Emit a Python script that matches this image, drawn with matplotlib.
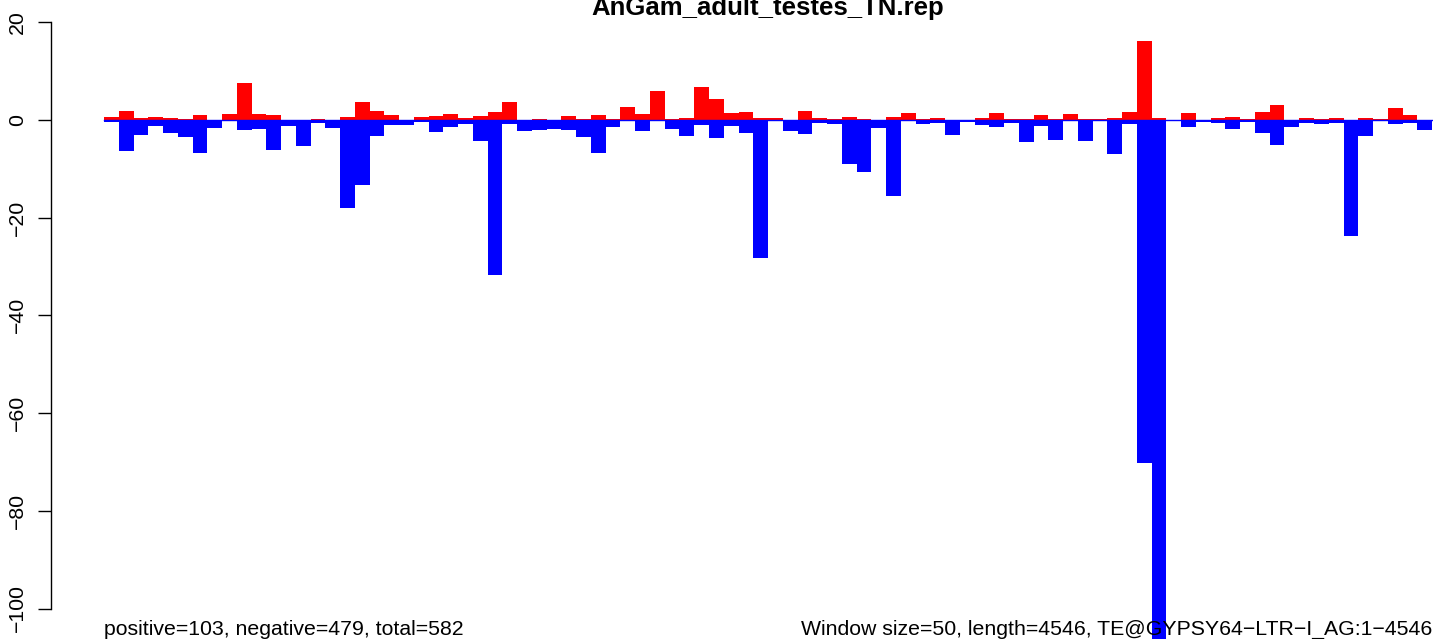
import matplotlib
matplotlib.use("Agg")
import matplotlib.pyplot as plt
import numpy as np

plt.rcParams['font.family'] = ['Liberation Sans', 'DejaVu Sans']

#---------------------------------------------------------------------------------------------------------
# Data: per-window counts (window size 50), positive strand up, negative strand down
#---------------------------------------------------------------------------------------------------------
TITLE = "AnGam_adult_testes_TN.rep"
LEFT_NOTE = "positive=103, negative=479, total=582"
RIGHT_NOTE = "Window size=50, length=4546, TE@GYPSY64\u2212LTR\u2212I_AG:1\u22124546"

positive = [0.6, 1.8, 0.4, 0.6, 0.4, 0.2, 1.0, 0, 1.2, 7.55, 1.2, 1.0, 0, 0, 0.2, 0, 0.6, 3.7, 1.8, 1.0, 0, 0.6, 0.8,
            1.2, 0.4, 0.8, 1.6, 3.7, 0, 0.2, 0, 0.8, 0.2, 1.0, 0.2, 2.7, 1.2, 5.9, 0.2, 0.4, 6.7, 4.3, 1.4, 1.6, 0.4, 0.4,
            0, 1.8, 0.4, 0.2, 0.6, 0.2, 0, 0.6, 1.4, 0.2, 0.4, 0, 0, 0.4, 1.4, 0.2, 0.2, 1.0, 0.2, 1.2, 0.2, 0.2, 0.4,
            1.6, 16.1, 0.4, 0, 1.4, 0, 0.4, 0.6, 0.2, 1.6, 3.1, 0, 0.4, 0.2, 0.4, 0, 0.4, 0.2, 2.4, 1.0, 0]
negative = [0.4, 6.3, 3.1, 1.2, 2.7, 3.5, 6.7, 1.6, 0.3, 2.0, 1.8, 6.1, 1.2, 5.3, 0.6, 1.6, 18.0, 13.3, 3.3, 1.0, 1.0, 0.4, 2.4,
            1.4, 0.8, 4.3, 31.8, 0.8, 2.2, 2.0, 1.8, 2.0, 3.5, 6.7, 1.4, 0, 2.2, 0, 1.8, 3.3, 1.0, 3.7, 1.2, 2.7, 28.2, 0,
            2.2, 2.9, 0.6, 0.8, 9.0, 10.6, 1.6, 15.5, 0, 0.8, 0.6, 3.1, 0.4, 1.0, 1.4, 0.6, 4.5, 1.2, 4.1, 0, 4.3, 0.2, 6.9,
            0.8, 70.2, 110, 0, 1.4, 0.4, 0.6, 1.8, 0.4, 2.7, 5.1, 1.4, 0.6, 0.8, 0.6, 23.7, 3.3, 0.2, 0.8, 0.6, 2.0]
yticks = [20, 0, -20, -40, -60, -80, -100]

#---------------------------------------------------------------------------------------------------------
# Plot
#---------------------------------------------------------------------------------------------------------
W, H = 1433, 639
fig = plt.figure(figsize=(W / 100, H / 100), dpi=100)
ax = fig.add_axes([0, 0, 1, 1])

bar_px = 14.756          # pixel width of one window
x0_px = 104              # left edge of first bar
y0_px = 120              # baseline
unit_px = 4.885          # pixels per count

ax.set_xlim(-x0_px / bar_px, (W - x0_px) / bar_px)
ax.set_ylim((y0_px - H) / unit_px, y0_px / unit_px)

x = np.arange(len(positive))
ax.bar(x, positive, width=1.0, align='edge', color='red', linewidth=0)
ax.bar(x, -np.array(negative), width=1.0, align='edge', color='blue', linewidth=0)
ax.plot([0, len(positive) + 1], [0, 0], color='blue', lw=1.0)

for s in ['top', 'right', 'bottom']:
    ax.spines[s].set_visible(False)
ax.spines['left'].set_bounds(-100, 20)
ax.spines['left'].set_position(('data', (50.7 - x0_px) / bar_px))
ax.spines['left'].set_linewidth(1.0)
ax.set_xticks([])
ax.set_yticks(yticks)
ax.set_yticklabels([str(t).replace('-', '\u2212') for t in yticks])
ax.tick_params(axis='y', length=9.6, width=1.0, pad=7.5, labelsize=15.3, labelrotation=90)
for lab in ax.get_yticklabels():
    lab.set_va('center')

fig.text(768 / W, 1 - 15 / H, TITLE, ha='center', va='baseline', fontsize=18.5, fontweight='bold')
fig.text(104 / W, 1 - 635 / H, LEFT_NOTE, ha='left', va='baseline', fontsize=15.3)
fig.text(1432 / W, 1 - 635 / H, RIGHT_NOTE, ha='right', va='baseline', fontsize=15.3)

fig.savefig("out.png", dpi=100)
